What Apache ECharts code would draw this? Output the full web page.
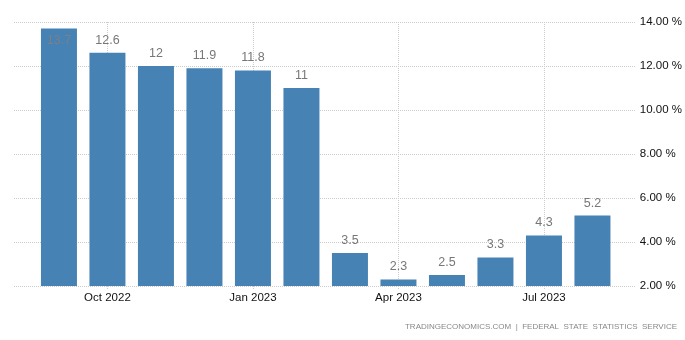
<!DOCTYPE html>
<html><head><meta charset="utf-8">
<script src="https://cdn.jsdelivr.net/npm/echarts@6/dist/echarts.min.js"></script>
<style>html,body{margin:0;padding:0;background:#fff}#c{width:685px;height:340px}</style>
</head><body><div id="c"></div>
<script>
const categories = ['Sep 2022','Oct 2022','Nov 2022','Dec 2022','Jan 2023','Feb 2023','Mar 2023','Apr 2023','May 2023','Jun 2023','Jul 2023','Aug 2023'];
const values = [13.7, 12.6, 12, 11.9, 11.8, 11, 3.5, 2.3, 2.5, 3.3, 4.3, 5.2];
const yTicks = [2, 4, 6, 8, 10, 12, 14];
const labelIdx = [1, 4, 7, 10];

const FONT = 'Liberation Sans, Arial, sans-serif';
const chart = echarts.init(document.getElementById('c'), null, {renderer: 'canvas'});
const show = (i) => labelIdx.indexOf(i) >= 0;
chart.setOption({
  animation: false,
  grid: [
    {left: 14, right: 50, top: 22, bottom: 54, containLabel: false},
    {left: 34.7, right: 68.3, top: 22, bottom: 54, containLabel: false}
  ],
  xAxis: [
    {gridIndex: 0, type: 'category', data: categories, show: false},
    {gridIndex: 1, type: 'category', data: categories,
     axisLine: {show: false},
     axisTick: {show: true, alignWithLabel: true, interval: (i) => show(i), length: 4, lineStyle: {color: '#ccc', type: 'dotted'}},
     axisLabel: {interval: (i) => show(i), color: '#111', fontFamily: FONT, fontSize: 11.5, margin: 6},
     splitLine: {show: true, alignWithLabel: true, interval: (i) => show(i), lineStyle: {color: '#ccc', type: 'dotted'}}}
  ],
  yAxis: [
    {gridIndex: 0, type: 'value', position: 'right', min: yTicks[0], max: yTicks[yTicks.length-1], interval: 2,
     axisLine: {show: false}, axisTick: {show: false},
     axisLabel: {formatter: (v) => v.toFixed(2) + ' %', color: '#111', fontFamily: FONT, fontSize: 11.5, margin: 5},
     splitLine: {show: true, lineStyle: {color: '#ccc', type: 'dotted'}}},
    {gridIndex: 1, type: 'value', min: yTicks[0], max: yTicks[yTicks.length-1], interval: 2, show: false,
     splitLine: {show: false}}
  ],
  series: [{
    type: 'bar', xAxisIndex: 1, yAxisIndex: 1,
    data: values.map((v, i) => i === 0 ? {value: v, label: {position: 'insideTop', distance: 5, color: '#7a7f8a'}} : v),
    barWidth: 36,
    itemStyle: {color: '#4682b4'},
    label: {show: true, position: 'top', distance: 6, color: '#777', fontFamily: FONT, fontSize: 12.5}
  }],
  graphic: [{
    type: 'text', right: 8, top: 323,
    style: {text: 'TRADINGECONOMICS.COM  |  FEDERAL  STATE  STATISTICS  SERVICE', fill: '#888', font: '8px ' + FONT}
  }]
});
</script></body></html>
